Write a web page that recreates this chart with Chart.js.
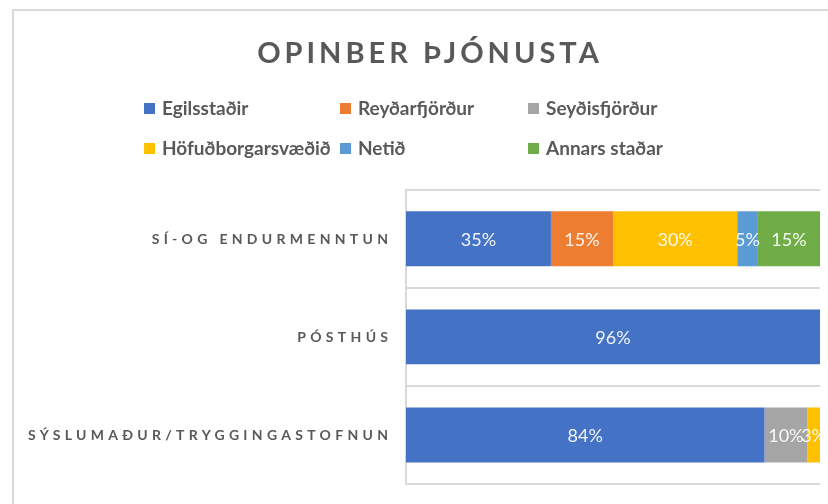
<!DOCTYPE html>
<html>
<head>
<meta charset="utf-8">
<script src="https://cdn.jsdelivr.net/npm/chart.js@4/dist/chart.umd.min.js"></script>
<style>
  html, body { margin: 0; padding: 0; background: #fff; overflow: hidden; }
</style>
</head>
<body>
<canvas id="myChart" width="860" height="504"></canvas>
<script>
// categories (top to bottom) and raw values per place (shown as labels)
var categories = ["SÍ-OG ENDURMENNTUN", "PÓSTHÚS", "SÝSLUMAÐUR/TRYGGINGASTOFNUN"];
var seriesNames = ["Egilsstaðir", "Reyðarfjörður", "Seyðisfjörður", "Höfuðborgarsvæðið", "Netið", "Annars staðar"];
var egilsstadir = [35, 96, 84];
var reydarfjordur = [15, 0, 0];
var seydisfjordur = [0, 0, 10];
var hofudborgarsvaedid = [30, 0, 3];
var netid = [5, 0, 0];
var annarsStadar = [15, 0, 0];
var barColors = ["#4472C4", "#ED7D31", "#A5A5A5", "#FFC000", "#5B9BD5", "#70AD47"];

var allSeries = [egilsstadir, reydarfjordur, seydisfjordur, hofudborgarsvaedid, netid, annarsStadar];

// 100% stacked: each bar is scaled to its own total
var totals = categories.map(function (c, i) {
  return allSeries.reduce(function (s, arr) { return s + arr[i]; }, 0);
});

var datasets = allSeries.map(function (arr, k) {
  return {
    label: seriesNames[k],
    backgroundColor: barColors[k],
    rawValues: arr,
    data: arr.map(function (v, i) { return v / totals[i] * 100; }),
    barPercentage: 0.56,
    categoryPercentage: 1
  };
});

var textGray = "#595959";
var lineGray = "#d9d9d9";

var decorations = {
  id: "decorations",
  beforeDraw: function (chart) {
    var ctx = chart.ctx;
    ctx.save();
    ctx.strokeStyle = lineGray;
    ctx.lineWidth = 2;
    ctx.strokeRect(13, 10, 839, 600);
    ctx.restore();
    ctx.letterSpacing = "4px"; // title spacing
  },
  beforeDatasetsDraw: function (chart) {
    chart.ctx.letterSpacing = "0px";
  },
  afterDatasetsDraw: function (chart) {
    var ctx = chart.ctx;
    ctx.save();
    ctx.font = "18px Lato";
    ctx.fillStyle = "rgba(255,255,255,0.92)";
    ctx.textAlign = "center";
    ctx.textBaseline = "middle";
    chart.data.datasets.forEach(function (ds, k) {
      chart.getDatasetMeta(k).data.forEach(function (bar, i) {
        var v = ds.rawValues[i];
        if (!v) return;
        ctx.fillText(v + "%", (bar.x + bar.base) / 2, bar.y + 1);
      });
    });
    ctx.restore();
  },
  afterDraw: function (chart) {
    var ctx = chart.ctx;
    ctx.save();
    // legend in three columns
    var colX = [144, 340, 528];
    var rowY = [109, 149];
    ctx.font = "bold 19px Lato";
    ctx.textBaseline = "middle";
    ctx.textAlign = "left";
    chart.data.datasets.forEach(function (ds, k) {
      var x = colX[k % 3], y = rowY[Math.floor(k / 3)];
      ctx.fillStyle = ds.backgroundColor;
      ctx.fillRect(x, y - 6, 11, 11);
      ctx.fillStyle = textGray;
      ctx.fillText(ds.label, x + 18, y);
    });
    // category labels, letter spaced
    var yScale = chart.scales.y;
    ctx.font = "bold 14px Lato";
    ctx.letterSpacing = "4.3px";
    ctx.textAlign = "right";
    ctx.fillStyle = textGray;
    categories.forEach(function (c, i) {
      ctx.fillText(c, 388 + 4.3, yScale.getPixelForTick(i) + 1);
    });
    ctx.restore();
    ctx.letterSpacing = "0px";
  }
};

new Chart("myChart", {
  type: "bar",
  data: {
    labels: categories,
    datasets: datasets
  },
  options: {
    indexAxis: "y",
    responsive: false,
    animation: false,
    devicePixelRatio: 1,
    layout: { padding: { left: 40, right: 40, top: 0, bottom: 20 } },
    plugins: {
      legend: { display: false },
      tooltip: { enabled: false },
      title: {
        display: true,
        text: "OPINBER ÞJÓNUSTA",
        color: textGray,
        font: { family: "Lato", size: 29, weight: "bold", lineHeight: 1.2 },
        padding: { top: 36, bottom: 119 }
      }
    },
    scales: {
      x: { stacked: true, min: 0, max: 100, display: false },
      y: {
        stacked: true,
        grid: { color: lineGray, lineWidth: 2, offset: true, drawTicks: false },
        border: { color: lineGray, width: 2 },
        ticks: { display: false },
        afterFit: function (scale) { scale.width = 366; }
      }
    }
  },
  plugins: [decorations]
});
</script>
</body>
</html>
